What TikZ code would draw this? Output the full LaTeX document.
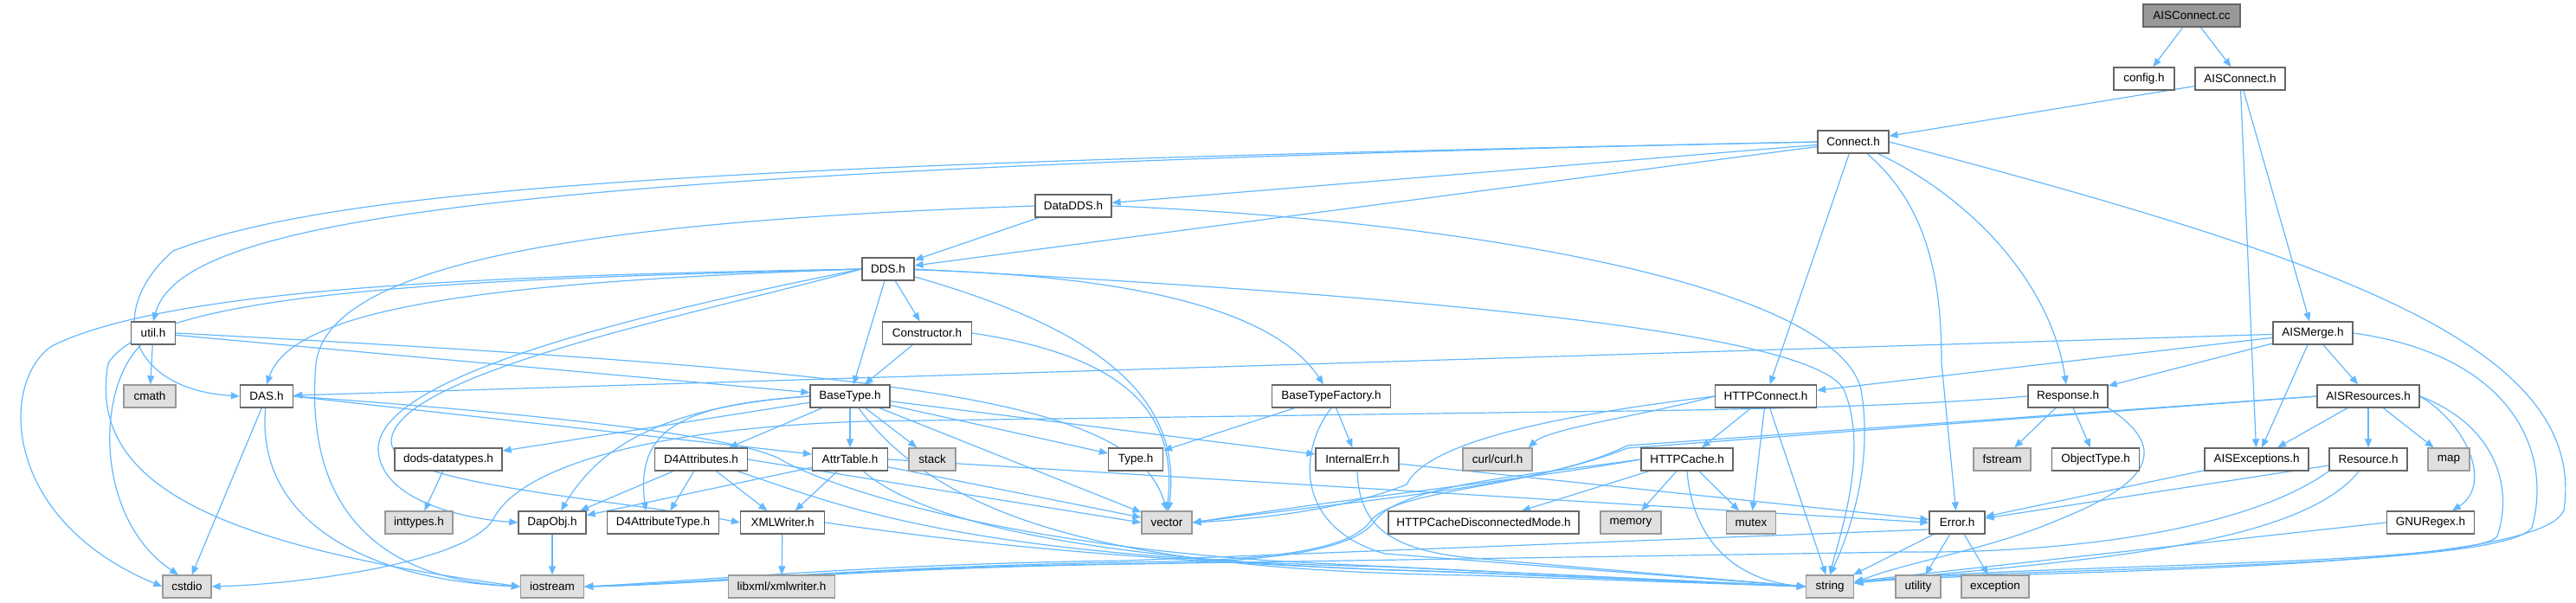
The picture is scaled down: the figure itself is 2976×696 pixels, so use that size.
\documentclass[tikz,border=0pt]{standalone}
\usepackage{fontspec}
\setmainfont{Liberation Sans}
\usetikzlibrary{arrows.meta}
\definecolor{edgeblue}{HTML}{63B8FF}
\definecolor{boxborder}{HTML}{666666}
\definecolor{extborder}{HTML}{999999}
\definecolor{extfill}{HTML}{E0E0E0}
\definecolor{rootfill}{HTML}{999999}
\pgfdeclarelayer{bg}
\pgfsetlayers{bg,main}
\tikzset{
  box/.style={draw=boxborder, fill=white, line width=1.3pt, minimum height=26pt,
    inner sep=0pt, font=\fontsize{13.5}{16}\selectfont},
  ext/.style={box, draw=extborder, fill=extfill},
  root/.style={box, draw=boxborder, fill=rootfill},
  e/.style={draw=edgeblue, line width=1.2pt, -{Triangle[length=10pt,width=8pt]}}
}
\begin{document}
\begin{tikzpicture}[x=1pt,y=-1pt]
\useasboundingbox (0,0) rectangle (2976,696);
% rank 0
\node[root, minimum width=112pt] (cc) at (2532,18) {AISConnect.cc};
% rank 1
\node[box, minimum width=70pt] (config) at (2477,91) {config.h};
\node[box, minimum width=104pt] (aisconnh) at (2588,91) {AISConnect.h};
% rank 2
\node[box, minimum width=82pt] (connect) at (2141,164) {Connect.h};
% rank 3
\node[box, minimum width=88pt] (datadds) at (1240,238) {DataDDS.h};
% rank 4
\node[box, minimum width=60pt] (dds) at (1026,311) {DDS.h};
% rank 5
\node[box, minimum width=51pt] (util) at (177,385) {util.h};
\node[box, minimum width=103pt] (constructor) at (1071,385) {Constructor.h};
\node[box, minimum width=92pt] (aismerge) at (2672,385) {AISMerge.h};
% rank 6
\node[ext, minimum width=60pt] (cmath) at (173,458) {cmath};
\node[box, minimum width=61pt] (das) at (308,458) {DAS.h};
\node[box, minimum width=92pt] (basetype) at (982,458) {BaseType.h};
\node[box, minimum width=137pt] (btf) at (1538,458) {BaseTypeFactory.h};
\node[box, minimum width=117pt] (httpconnect) at (2040,458) {HTTPConnect.h};
\node[box, minimum width=92pt] (response) at (2389,458) {Response.h};
\node[box, minimum width=118pt] (aisres) at (2736,458) {AISResources.h};
% rank 7
\node[box, minimum width=124pt] (dods) at (518,531) {dods-datatypes.h};
\node[box, minimum width=107pt] (d4attr) at (810,531) {D4Attributes.h};
\node[box, minimum width=87pt] (attrtable) at (982,531) {AttrTable.h};
\node[ext, minimum width=54pt] (stack) at (1077,531) {stack};
\node[box, minimum width=63pt] (type) at (1312,531) {Type.h};
\node[box, minimum width=96pt] (internalerr) at (1568,531) {InternalErr.h};
\node[ext, minimum width=80pt] (curl) at (1730,531) {curl/curl.h};
\node[box, minimum width=106pt] (httpcache) at (1949,531) {HTTPCache.h};
\node[ext, minimum width=66pt] (fstream) at (2313,531) {fstream};
\node[box, minimum width=101pt] (objtype) at (2421,531) {ObjectType.h};
\node[box, minimum width=120pt] (aisexc) at (2607,531) {AISExceptions.h};
\node[box, minimum width=90pt] (resource) at (2736,531) {Resource.h};
\node[ext, minimum width=48pt] (map) at (2829,531) {map};
% rank 8
\node[ext, minimum width=78pt] (inttypes) at (484,604) {inttypes.h};
\node[box, minimum width=78pt] (dapobj) at (638,604) {DapObj.h};
\node[box, minimum width=129pt] (d4attrtype) at (766,604) {D4AttributeType.h};
\node[box, minimum width=97pt] (xmlwriter) at (904,604) {XMLWriter.h};
\node[ext, minimum width=58pt] (vector) at (1348,604) {vector};
\node[box, minimum width=220pt] (hcdm) at (1714,604) {HTTPCacheDisconnectedMode.h};
\node[ext, minimum width=70pt] (memory) at (1884,604) {memory};
\node[ext, minimum width=57pt] (mutex) at (2023,604) {mutex};
\node[box, minimum width=64pt] (error) at (2261,604) {Error.h};
\node[box, minimum width=101pt] (gnuregex) at (2808,604) {GNURegex.h};
% rank 9
\node[ext, minimum width=56pt] (cstdio) at (216,678) {cstdio};
\node[ext, minimum width=73pt] (iostream) at (638,678) {iostream};
\node[ext, minimum width=123pt] (libxml) at (903,678) {libxml/xmlwriter.h};
\node[ext, minimum width=55pt] (string) at (2114,678) {string};
\node[ext, minimum width=52pt] (utility) at (2216,678) {utility};
\node[ext, minimum width=78pt] (exception) at (2305,678) {exception};

\begin{pgfonlayer}{bg}
% AISConnect.cc / AISConnect.h
\draw[e] (cc) -- (config);
\draw[e] (cc) -- (aisconnh);
\draw[e] (aisconnh) -- (connect);
\draw[e] (aisconnh) -- (aismerge);
\draw[e] (aisconnh) -- (aisexc);
% Connect.h
\draw[e] (connect) -- (datadds);
\draw[e] (connect) -- (dds);
\draw[e] (connect.west) .. controls (600,195) and (210,250) .. (util.north);
\draw[e] (connect.west) .. controls (900,188) and (400,212) .. (200,290) .. controls (120,360) and (150,450) .. (das.west);
\draw[e] (connect) -- (httpconnect);
\draw[e] (connect) .. controls (2230,240) and (2243,330) .. (2243,420) -- (error);
\draw[e] (connect) .. controls (2280,230) and (2370,330) .. (response);
\draw[e] (connect.east) .. controls (2700,300) and (2990,400) .. (2962,590) .. controls (2930,665) and (2300,658) .. ([yshift=4pt]string.east);
% DataDDS.h
\draw[e] (datadds) -- (dds);
\draw[e] (datadds.west) .. controls (700,255) and (380,300) .. (365,420) .. controls (350,600) and (450,670) .. (iostream.west);
\draw[e] (datadds.east) .. controls (1700,255) and (2120,330) .. (2150,450) .. controls (2165,540) and (2135,620) .. (string.north);
% DDS.h
\draw[e] (dds) -- (basetype);
\draw[e] (dds) -- (constructor);
\draw[e] (dds) .. controls (1230,370) and (1370,440) .. (vector);
\draw[e] (dds) .. controls (1350,320) and (1480,370) .. (btf);
\draw[e] (dds.east) .. controls (1600,340) and (2090,380) .. (2130,450) .. controls (2160,520) and (2125,620) .. (string.north);
\draw[e] (dds.west) .. controls (600,325) and (340,350) .. (das.north);
\draw[e] (dds.west) .. controls (700,370) and (435,440) .. (437,520) .. controls (440,580) and (540,600) .. (dapobj.west);
\draw[e] (dds.west) .. controls (820,360) and (455,430) .. (452,510) .. controls (450,560) and (700,575) .. (xmlwriter.west);
\draw[e] (dds.west) .. controls (600,318) and (200,330) .. (60,400) .. controls (0,440) and (0,600) .. (cstdio.west);
\draw[e] (dds.west) .. controls (600,322) and (180,330) .. (125,420) .. controls (100,560) and (250,630) .. (iostream.west);
% util.h
\draw[e] (util) -- (cmath);
\draw[e] (util) .. controls (110,450) and (110,600) .. ([xshift=-10pt]cstdio.north);
\draw[e] (util) -- (basetype);
\draw[e] (util.east) .. controls (1050,430) and (1310,460) .. (vector.north);
% Constructor.h
\draw[e] (constructor) -- (basetype);
\draw[e] (constructor.east) .. controls (1290,410) and (1362,470) .. (vector.north);
% AISMerge.h
\draw[e] (aismerge) -- (das);
\draw[e] (aismerge) -- (httpconnect);
\draw[e] (aismerge) -- (response);
\draw[e] (aismerge) -- (aisexc);
\draw[e] (aismerge) -- (aisres);
\draw[e] (aismerge.east) .. controls (2900,410) and (2950,520) .. (2925,610) .. controls (2890,660) and (2300,655) .. ([yshift=4pt]string.east);
% DAS.h
\draw[e] (das.east) -- ([yshift=6pt]attrtable.west);
\draw[e] (das) -- (cstdio);
\draw[e] (das) .. controls (295,600) and (420,670) .. (iostream.west);
\draw[e] (das.east) .. controls (650,480) and (850,505) .. (900,530) .. controls (950,560) and (1150,630) .. (1500,650) -- (string.west);
% BaseType.h
\draw[e] (basetype) -- (dods);
\draw[e] (basetype) -- (d4attr);
\draw[e] (basetype) -- (attrtable);
\draw[e] (basetype) -- (stack);
\draw[e] (basetype) -- (type);
\draw[e] (basetype) -- (internalerr);
\draw[e] (basetype) -- (vector);
\draw[e] (basetype.west) .. controls (760,470) and (690,520) .. ([xshift=10pt]dapobj.north);
\draw[e] (basetype.west) .. controls (780,468) and (735,500) .. ([xshift=-20pt]d4attrtype.north);
\draw[e] (basetype) .. controls (1100,620) and (1350,660) .. (1700,665) -- (string.west);
% dods-datatypes.h
\draw[e] (dods) -- (inttypes);
% D4Attributes.h
\draw[e] (d4attr) -- (dapobj);
\draw[e] (d4attr) -- (d4attrtype);
\draw[e] (d4attr) -- (xmlwriter);
\draw[e] (d4attr.east) -- (vector.west);
\draw[e] (d4attr) .. controls (960,580) and (1100,645) .. (1600,655) -- (string.west);
% AttrTable.h
\draw[e] (attrtable) -- (dapobj);
\draw[e] (attrtable) -- (xmlwriter);
\draw[e] (attrtable) -- (vector);
\draw[e] (attrtable.east) -- (error.west);
\draw[e] (attrtable) .. controls (1060,600) and (1250,650) .. (1650,660) -- (string.west);
% BaseTypeFactory.h
\draw[e] (btf) -- (type);
\draw[e] (btf) -- (internalerr);
\draw[e] (btf.south) .. controls (1500,520) and (1495,610) .. (1600,640) -- (string.west);
% InternalErr.h
\draw[e] (internalerr) -- (error);
\draw[e] (internalerr.south) .. controls (1570,600) and (1595,635) .. (1700,645) -- (string.west);
% XMLWriter.h, DapObj.h
\draw[e] (xmlwriter) -- (libxml);
\draw[e] (xmlwriter.east) .. controls (1100,625) and (1300,650) .. (1700,662) -- (string.west);
\draw[e] (dapobj) -- (iostream);
% HTTPConnect.h
\draw[e] (httpconnect) -- (httpcache);
\draw[e] (httpconnect) -- (mutex);
\draw[e] (httpconnect) -- (string);
\draw[e] (httpconnect.west) .. controls (1900,480) and (1790,495) .. ([xshift=-5pt]curl.north east);
\draw[e] (httpconnect.west) .. controls (1800,480) and (1650,510) .. (1625,560) .. controls (1550,590) and (1450,600) .. (vector.east);
% HTTPCache.h
\draw[e] (httpcache) -- (hcdm);
\draw[e] (httpcache) -- (memory);
\draw[e] (httpcache) -- (mutex);
\draw[e] (httpcache.south) .. controls (1955,620) and (2000,670) .. (string.west);
\draw[e] (httpcache.west) .. controls (1760,555) and (1600,570) .. (vector.east);
\draw[e] (httpcache.west) .. controls (1760,550) and (1625,560) .. (1590,600) .. controls (1565,640) and (1450,650) .. (1300,652) .. controls (1000,657) and (800,676) .. (iostream.east);
% Response.h
\draw[e] (response) -- (fstream);
\draw[e] (response) -- (objtype);
\draw[e] (response.south east) .. controls (2510,520) and (2480,560) .. (2380,600) .. controls (2300,635) and (2200,650) .. ([yshift=4pt]string.east);
\draw[e] (response.west) .. controls (2200,470) and (2000,474) .. (1800,476) -- (1000,487) .. controls (750,495) and (600,540) .. (570,600) .. controls (540,650) and (350,675) .. (cstdio.east);
% AISResources.h
\draw[e] (aisres) -- (aisexc);
\draw[e] (aisres) -- (resource);
\draw[e] (aisres) -- (map);
\draw[e] (aisres.east) .. controls (2850,490) and (2880,560) .. ([xshift=25pt]gnuregex.north);
\draw[e] (aisres.east) .. controls (2880,490) and (2905,560) .. (2885,620) .. controls (2860,655) and (2300,652) .. ([yshift=4pt]string.east);
\draw[e] (aisres.west) -- (1880,515) .. controls (1790,560) and (1600,575) .. (vector.east);
\draw[e] (aisres.west) -- (1880,518) .. controls (1760,565) and (1620,565) .. (1585,600) .. controls (1560,640) and (1450,648) .. (1300,650) .. controls (1000,655) and (800,675) .. (iostream.east);
% Resource.h, AISExceptions.h, GNURegex.h
\draw[e] (resource) -- (error);
\draw[e] (resource) .. controls (2650,640) and (2350,650) .. ([yshift=4pt]string.east);
\draw[e] (resource.south west) .. controls (2600,610) and (2400,640) .. (2200,638) -- (1300,652) .. controls (1000,655) and (800,675) .. (iostream.east);
\draw[e] (aisexc) -- (error);
\draw[e] (gnuregex.west) -- ([yshift=6pt]string.east);
% Error.h
\draw[e] (error) -- (string);
\draw[e] (error) -- (utility);
\draw[e] (error) -- (exception);
\draw[e] ([yshift=-8pt]error.west) -- (1300,648) .. controls (1000,652) and (800,672) .. (iostream.east);
\end{pgfonlayer}
\end{tikzpicture}
\end{document}
